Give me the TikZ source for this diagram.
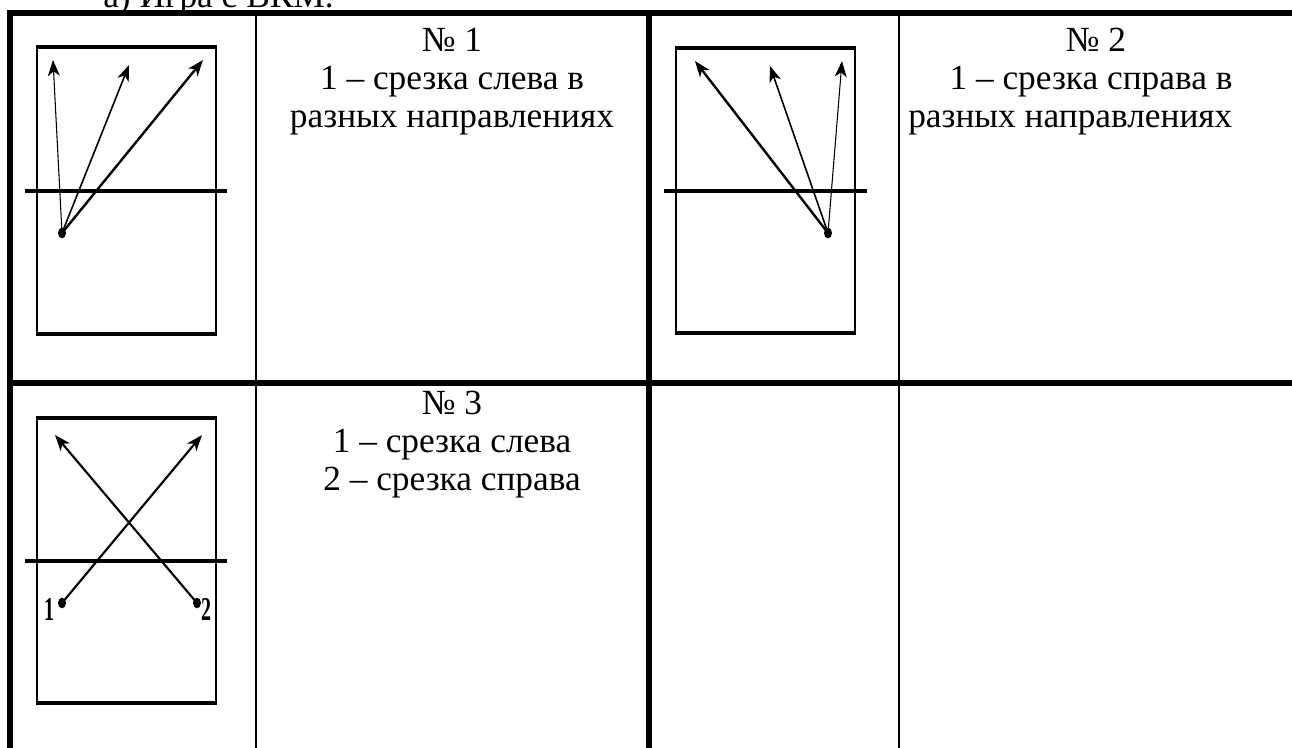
\documentclass[tikz,border=0pt]{standalone}
\usepackage{fontspec}
\setmainfont{Liberation Serif}
\usetikzlibrary{arrows.meta,shapes.geometric}
\tikzset{
  rule/.style={line width=4.5pt},
  hair/.style={line width=1.1pt},
  courtend/.style={line width=3.2pt},
  courtside/.style={line width=1pt},
  net/.style={line width=3.2pt},
  ball/.style={ellipse, fill=black, inner sep=0pt, minimum width=6pt, minimum height=8pt},
  shot/.style={-{Stealth[length=12pt,width=9pt,inset=3.5pt]}},
  celltext/.style={font=\fontsize{26.5}{31}\selectfont, inner sep=0pt, anchor=base},
  tag/.style={font=\fontsize{25}{25}\selectfont\bfseries, inner sep=0pt, xscale=0.6}
}

\begin{document}
\begin{tikzpicture}[x=0.75pt,y=-0.75pt]
  \useasboundingbox (0,0) rectangle (1292,747);

  % heading, cut off by the page
  \node[celltext, anchor=base west] (caption) at (103,7) {а) Игра с ВКМ.};

  % table rules
  \draw[hair] (256,13) -- (256,760);
  \draw[hair] (899,13) -- (899,760);
  \draw[rule] (649,13) -- (649,760);
  \draw[rule] (9.5,10) -- (9.5,760);
  \draw[rule] (7,13) -- (1300,13);
  \draw[rule] (7,383) -- (1300,383);

  % court 1
  \draw[courtside] (37,47) -- (37,334) (216,47) -- (216,334);
  \draw[courtend] (36,47) -- (217,47) (36,334) -- (217,334);
  \draw[net] (25,191) -- (227,191);
  \node[ball] (ballA) at (62,233) {};
  \coordinate (a1) at (53,60);
  \coordinate (a2) at (129,65);
  \coordinate (a3) at (203,60);
  \draw[shot, line width=0.8pt] (ballA.center) -- (a1);
  \draw[shot, line width=1.2pt] (ballA.center) -- (a2);
  \draw[shot, line width=1.8pt] (ballA.center) -- (a3);

  % court 2
  \draw[courtside] (676,48) -- (676,333) (855,48) -- (855,333);
  \draw[courtend] (675,48) -- (856,48) (675,333) -- (856,333);
  \draw[net] (664,191) -- (867,191);
  \node[ball] (ballB) at (828,233) {};
  \coordinate (b1) at (695,61);
  \coordinate (b2) at (770,66);
  \coordinate (b3) at (842,61);
  \draw[shot, line width=1.8pt] (ballB.center) -- (b1);
  \draw[shot, line width=1.2pt] (ballB.center) -- (b2);
  \draw[shot, line width=0.8pt] (ballB.center) -- (b3);

  % court 3
  \draw[courtside] (37,418) -- (37,703) (216,418) -- (216,703);
  \draw[courtend] (36,418) -- (217,418) (36,703) -- (217,703);
  \draw[net] (25,561) -- (227,561);
  \node[ball] (ballL) at (62,603) {};
  \node[ball] (ballR) at (197,603) {};
  \node[tag] (tagL) at (49,609) {1};
  \node[tag] (tagR) at (206,609) {2};
  \coordinate (cR) at (202,435);
  \coordinate (cL) at (55,435);
  \draw[shot, line width=1.6pt] (ballL.center) -- (cR);
  \draw[shot, line width=1.6pt] (ballR.center) -- (cL);

  % cell texts
  \node[celltext] (no1) at (452,51) {№ 1};
  \node[celltext] (no1a) at (452,89) {1 – срезка слева в};
  \node[celltext] (no1b) at (452,127) {разных направлениях};

  \node[celltext] (no2) at (1096,51) {№ 2};
  \node[celltext] (no2a) at (1091,89) {1 – срезка справа в};
  \node[celltext, anchor=base west] (no2b) at (908,127) {разных направлениях};

  \node[celltext] (no3) at (452,414) {№ 3};
  \node[celltext] (no3a) at (452,452) {1 – срезка слева};
  \node[celltext] (no3b) at (452,490) {2 – срезка справа};
\end{tikzpicture}
\end{document}
